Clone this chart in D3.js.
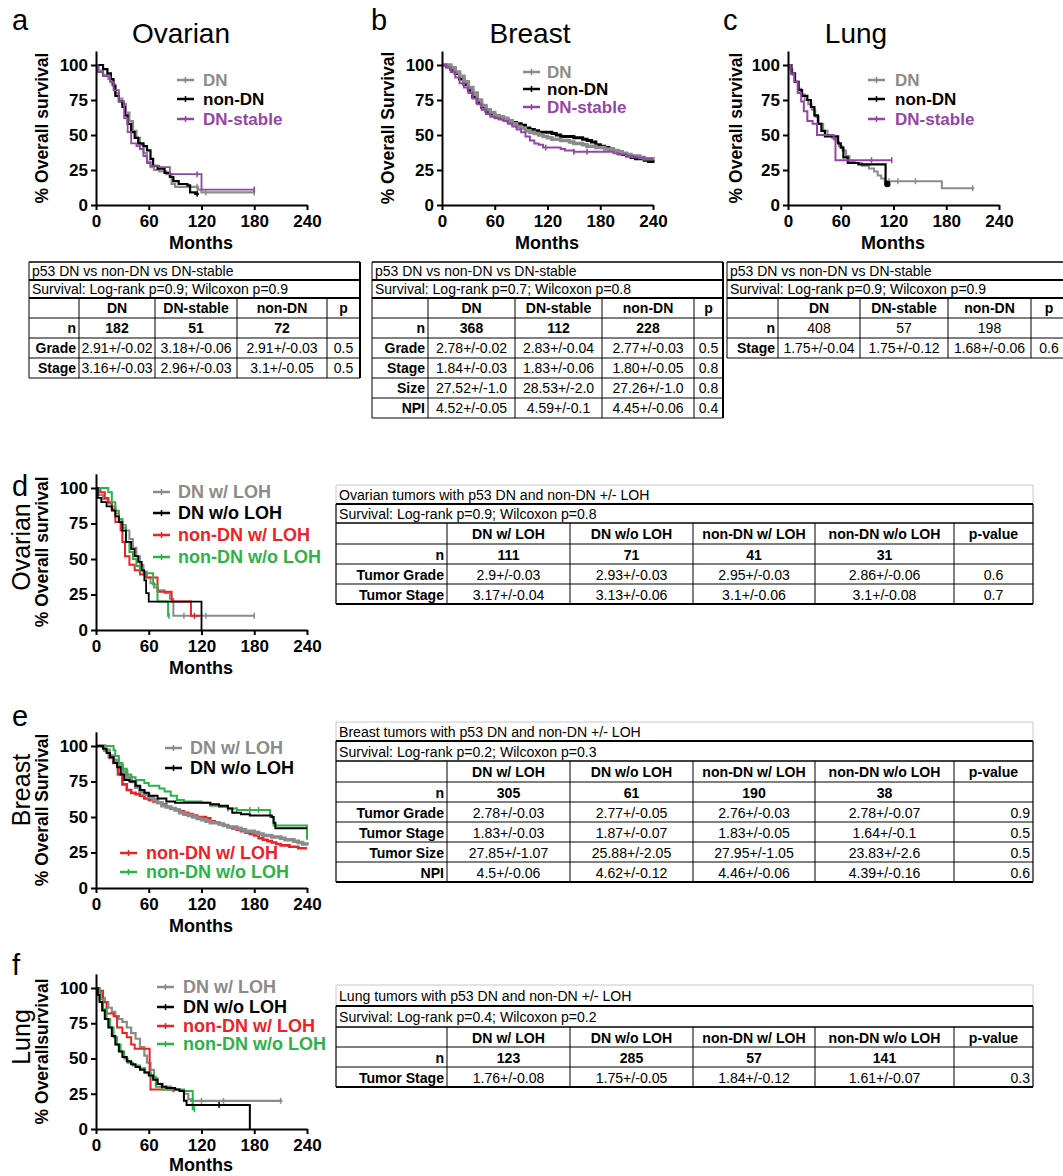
<!DOCTYPE html>
<html>
<head>
<meta charset="utf-8">
<script src="https://cdn.jsdelivr.net/npm/d3@7"></script>
<style>
  body { margin: 0; background: #fff; }
  svg { display: block; }
  text { font-family: "Liberation Sans", Arial, sans-serif; }
</style>
</head>
<body>
<svg id="fig" width="1063" height="1176"></svg>
<script>
// ---- ticks ----
const MONTH_TICKS = [0, 60, 120, 180, 240];
const SURV_TICKS = [0, 25, 50, 75, 100];

// ---- legends ----
const LEG3 = ["DN", "non-DN", "DN-stable"];
const LEG4 = ["DN w/ LOH", "DN w/o LOH", "non-DN w/ LOH", "non-DN w/o LOH"];

// ---- a: ovarian (month, % surviving) ----
const ovDN = [[0,100],[3,96],[8,93],[14,90],[18,86],[22,80],[26,76],[30,72],[34,66],[38,60],[42,53],[46,48],[50,43],[54,37],[58,31],[62,27],[66,25],[72,24],[80,22],[86,15],[90,13],[112,13],[116,11],[120,9],[180,9]];
const ovNon = [[0,100],[8,97],[13,94],[17,90],[20,85],[22,78],[26,74],[30,70],[33,64],[36,58],[40,52],[44,48],[48,44],[54,42],[58,39],[62,33],[65,28],[70,26],[78,23],[84,20],[88,17],[94,15],[104,14],[107,9],[113,8],[117,8]];
const ovStable = [[0,100],[2,95],[8,92],[16,88],[20,82],[26,74],[32,62],[36,52],[40,44],[46,42],[50,40],[54,35],[58,30],[62,28],[72,27],[84,22],[118,22],[120,11],[180,11]];
const ovDNCens = [115, 125, 180];
const ovNonCens = [115];
const ovStableCens = [115, 180];

// ---- b: breast ----
const brDN = [[0,100],[5,100],[10,98],[15,95],[20,92],[25,88],[30,84],[35,80],[40,75],[45,71],[50,68],[55,66],[60,64],[65,63],[70,62],[75,60],[80,58],[85,56],[90,55],[95,53],[100,52],[105,51],[110,50],[115,49],[120,48],[125,47],[135,46],[145,45],[150,44],[160,43],[165,42],[175,41],[185,40],[195,39],[200,38],[205,37],[210,36],[215,35],[225,34],[230,33],[240,32]];
const brNon = [[0,100],[5,99],[10,97],[15,94],[20,90],[25,86],[30,82],[35,77],[40,73],[45,70],[50,67],[55,65],[60,63],[65,62],[70,61],[75,60],[80,59],[85,58],[90,57],[95,55],[100,54],[105,53],[110,52],[125,51],[130,50],[135,49],[150,48],[160,47],[165,46],[170,45],[175,43],[180,42],[185,41],[190,40],[195,39],[200,37],[205,36],[210,35],[215,34],[220,33],[230,32],[235,31],[240,30]];
const brStable = [[0,100],[5,98],[10,95],[15,91],[20,87],[25,84],[30,80],[35,76],[40,72],[45,68],[50,65],[55,63],[60,62],[65,61],[70,60],[75,58],[80,56],[85,54],[90,52],[95,49],[100,46],[105,44],[110,43],[115,41],[135,40],[140,39],[150,38],[190,38],[195,37],[200,36],[210,35],[220,34],[230,33],[240,33]];
const brStableCens = [118, 150, 165];

// ---- c: lung ----
const luDN = [[0,100],[2,97],[5,93],[8,88],[12,83],[15,79],[19,75],[23,72],[27,68],[31,63],[35,58],[40,53],[45,50],[50,48],[55,45],[58,42],[62,39],[66,35],[70,31],[76,30],[84,28],[92,26],[98,24],[102,21],[106,19],[110,17],[174,17],[175,12],[212,12]];
const luNon = [[0,100],[4,94],[8,88],[12,82],[16,78],[22,75],[26,70],[30,64],[34,58],[38,53],[42,49],[54,49],[57,44],[60,41],[63,34],[68,30],[80,29],[110,29],[111,15],[113,15]];
const luStable = [[0,100],[3,94],[7,88],[11,80],[15,74],[18,67],[22,60],[28,58],[33,50],[48,50],[52,47],[54,32],[118,32]];
const luDNCens = [115, 125, 145, 210];
const luStableCens = [95, 118];

// ---- d: ovarian +/- LOH ----
const dDNw = [[0,100],[3,95],[8,92],[14,89],[18,87],[22,82],[26,78],[30,74],[34,70],[38,64],[42,58],[46,52],[50,46],[54,41],[58,37],[62,33],[66,30],[70,28],[78,26],[84,22],[88,10],[180,10]];
const dDNwo = [[0,100],[2,93],[6,90],[12,87],[18,84],[22,80],[26,76],[30,70],[34,62],[40,57],[44,52],[48,48],[52,42],[55,35],[57,26],[60,20],[120,20],[120,0]];
const dNonw = [[0,100],[5,97],[10,93],[14,90],[18,85],[22,76],[28,70],[30,62],[33,52],[38,46],[44,42],[50,39],[56,37],[70,27],[86,20],[108,10],[118,10]];
const dNonwo = [[0,100],[14,97],[18,90],[22,84],[26,78],[30,72],[34,62],[38,55],[42,50],[46,45],[50,42],[54,40],[62,40],[65,32],[70,20],[80,20],[82,10],[83,10]];
const dDNwCens = [100, 125, 180];
const dNonwCens = [112];
const dNonwoCens = [83];

// ---- e: breast +/- LOH ----
const eDNw = [[0,100],[5,100],[10,97],[15,93],[20,90],[25,86],[30,82],[35,78],[40,75],[45,71],[50,68],[55,66],[60,64],[65,62],[70,60],[75,58],[80,57],[85,56],[90,55],[95,53],[100,52],[105,51],[110,50],[115,49],[120,48],[125,47],[130,46],[140,45],[145,44],[150,43],[160,42],[165,41],[170,40],[180,39],[185,38],[190,37],[200,36],[210,35],[215,34],[225,33],[230,32],[235,31],[240,30]];
const eDNwo = [[0,100],[8,98],[12,95],[16,92],[20,88],[24,85],[28,80],[32,76],[38,75],[45,72],[50,69],[55,67],[60,65],[70,63],[80,61],[90,60],[130,59],[140,58],[150,56],[155,53],[165,52],[175,51],[200,50],[202,46],[204,42],[240,42]];
const eNonw = [[0,100],[10,97],[15,92],[20,88],[25,80],[30,73],[35,69],[40,67],[45,66],[50,65],[55,63],[60,62],[65,61],[70,60],[75,59],[80,57],[85,56],[90,55],[95,54],[100,53],[105,52],[110,51],[115,50],[125,49],[130,47],[135,46],[140,45],[145,44],[150,43],[155,42],[160,41],[165,40],[170,39],[175,38],[180,37],[185,35],[190,34],[195,33],[200,32],[205,31],[210,30],[220,29],[230,28],[240,28]];
const eNonwo = [[0,100],[18,100],[20,97],[22,93],[26,88],[30,84],[35,80],[40,78],[45,76],[55,74],[60,72],[72,70],[78,68],[85,65],[92,62],[100,61],[120,60],[130,58],[140,57],[150,56],[160,55],[196,55],[198,50],[202,44],[239,44],[240,34]];
const eNonwoCens = [150, 160, 175, 185];

// ---- f: lung +/- LOH ----
const fDNw = [[0,100],[3,97],[6,93],[10,90],[14,86],[18,83],[22,80],[26,78],[30,76],[35,72],[40,68],[45,64],[50,58],[55,52],[58,47],[62,42],[66,36],[70,32],[76,30],[85,28],[95,27],[100,25],[105,21],[108,20],[212,20]];
const fDNwo = [[0,100],[2,95],[4,90],[7,84],[10,78],[14,72],[18,66],[22,60],[26,55],[30,51],[35,48],[40,46],[45,44],[50,42],[55,40],[60,38],[65,35],[70,32],[75,30],[80,29],[90,28],[95,27],[100,20],[103,17],[175,17],[175,0]];
const fNonw = [[0,100],[4,98],[8,90],[12,82],[20,80],[24,72],[30,68],[35,65],[40,60],[44,57],[60,57],[61,40],[62,28],[82,28],[88,26]];
const fNonwo = [[0,100],[4,92],[8,85],[12,78],[16,72],[20,65],[24,60],[28,55],[32,50],[36,47],[42,45],[50,43],[56,40],[62,37],[68,30],[75,28],[85,28],[100,27],[110,27],[110,14],[112,14]];
const fDNwCens = [110, 120, 145, 210];
const fDNwoCens = [140];
const fNonwoCens = [112];

// ---- tables ----
const HEAD3 = ["", "DN", "DN-stable", "non-DN", "p"];
const HEAD4 = ["", "DN w/ LOH", "DN w/o LOH", "non-DN w/ LOH", "non-DN w/o LOH", "p-value"];
const tabA = [
  ["n", "182", "51", "72", ""],
  ["Grade", "2.91+/-0.02", "3.18+/-0.06", "2.91+/-0.03", "0.5"],
  ["Stage", "3.16+/-0.03", "2.96+/-0.03", "3.1+/-0.05", "0.5"]
];
const tabB = [
  ["n", "368", "112", "228", ""],
  ["Grade", "2.78+/-0.02", "2.83+/-0.04", "2.77+/-0.03", "0.5"],
  ["Stage", "1.84+/-0.03", "1.83+/-0.06", "1.80+/-0.05", "0.8"],
  ["Size", "27.52+/-1.0", "28.53+/-2.0", "27.26+/-1.0", "0.8"],
  ["NPI", "4.52+/-0.05", "4.59+/-0.1", "4.45+/-0.06", "0.4"]
];
const tabC = [
  ["n", "408", "57", "198", ""],
  ["Stage", "1.75+/-0.04", "1.75+/-0.12", "1.68+/-0.06", "0.6"]
];
const tabD = [
  ["n", "111", "71", "41", "31", ""],
  ["Tumor Grade", "2.9+/-0.03", "2.93+/-0.03", "2.95+/-0.03", "2.86+/-0.06", "0.6"],
  ["Tumor Stage", "3.17+/-0.04", "3.13+/-0.06", "3.1+/-0.06", "3.1+/-0.08", "0.7"]
];
const tabE = [
  ["n", "305", "61", "190", "38", ""],
  ["Tumor Grade", "2.78+/-0.03", "2.77+/-0.05", "2.76+/-0.03", "2.78+/-0.07", "0.9"],
  ["Tumor Stage", "1.83+/-0.03", "1.87+/-0.07", "1.83+/-0.05", "1.64+/-0.1", "0.5"],
  ["Tumor Size", "27.85+/-1.07", "25.88+/-2.05", "27.95+/-1.05", "23.83+/-2.6", "0.5"],
  ["NPI", "4.5+/-0.06", "4.62+/-0.12", "4.46+/-0.06", "4.39+/-0.16", "0.6"]
];
const tabF = [
  ["n", "123", "285", "57", "141", ""],
  ["Tumor Stage", "1.76+/-0.08", "1.75+/-0.05", "1.84+/-0.12", "1.61+/-0.07", "0.3"]
];

const GRAY = "#8b8b8b", BLACK = "#000", PURPLE = "#9545a9", RED = "#ec2227", GREEN = "#2db24a";

const svg = d3.select("#fig");

function stepAt(pts, m) {
  let v = pts[0][1];
  for (const p of pts) if (p[0] <= m) v = p[1];
  return v;
}

// one Kaplan-Meier panel
function drawKM(p) {
  const g = svg.append("g");
  const x = d3.scaleLinear().domain([0, 240]).range([p.x0, p.x0 + 211]);
  const y = d3.scaleLinear().domain([0, 110])
    .range([p.y0, p.y0 - (p.y0 - p.y100) * 1.1]);

  const line = d3.line().x(d => x(d[0])).y(d => y(d[1])).curve(d3.curveStepAfter);
  p.series.forEach(s => {
    g.append("path").datum(s.pts)
      .attr("d", line).attr("fill", "none")
      .attr("stroke", s.color).attr("stroke-width", s.w || 2);
    (s.cens || []).forEach(m => {
      g.append("line")
        .attr("x1", x(m)).attr("x2", x(m))
        .attr("y1", y(stepAt(s.pts, m)) - 3).attr("y2", y(stepAt(s.pts, m)) + 3)
        .attr("stroke", s.color).attr("stroke-width", 1.5);
    });
    if (s.dot) {
      const last = s.pts[s.pts.length - 1];
      g.append("circle").attr("cx", x(last[0])).attr("cy", y(last[1]))
        .attr("r", 3.2).attr("fill", s.color);
    }
  });

  const ax = g.append("g").attr("transform", "translate(0," + p.y0 + ")")
    .call(d3.axisBottom(x).tickValues(MONTH_TICKS).tickSize(5).tickSizeOuter(0).tickPadding(5));
  const ay = g.append("g").attr("transform", "translate(" + p.x0 + ",0)")
    .call(d3.axisLeft(y).tickValues(SURV_TICKS).tickSize(5).tickSizeOuter(0).tickPadding(3));
  [ax, ay].forEach(a => {
    a.selectAll("path,line").attr("stroke-width", 2);
    a.selectAll("text").attr("font-size", 17).attr("font-weight", "bold")
      .attr("font-family", '"Liberation Sans", Arial, sans-serif');
  });

  g.append("text").attr("x", p.x0 + 105).attr("y", p.y0 + (p.monthsDy || 44))
    .attr("text-anchor", "middle").attr("font-size", 18).attr("font-weight", "bold")
    .text("Months");
  g.append("text")
    .attr("transform", "translate(" + p.ylabX + "," + ((y(0) + y(110)) / 2) + ") rotate(-90)")
    .attr("text-anchor", "middle").attr("font-size", 17.5).attr("font-weight", "bold")
    .text(p.ylab);

  // legend
  p.legend.forEach(l => {
    const col = p.series.find(s => s.name === l.name).color;
    g.append("line").attr("x1", l.lx).attr("x2", l.lx + 17)
      .attr("y1", l.y).attr("y2", l.y).attr("stroke", col).attr("stroke-width", 2.5);
    g.append("line").attr("x1", l.lx + 8.5).attr("x2", l.lx + 8.5)
      .attr("y1", l.y - 3).attr("y2", l.y + 3).attr("stroke", col).attr("stroke-width", 1.5);
    g.append("text").attr("x", l.tx).attr("y", l.y + 6)
      .attr("font-size", p.legSize).attr("font-weight", "bold").attr("fill", col)
      .text(l.name);
  });
}

function leg(names, lx, tx, ys) {
  return names.map((n, i) => ({ name: n, lx: lx, tx: tx, y: ys[i] }));
}

// ---- top row panels ----
drawKM({
  x0: 96, y0: 205, y100: 65, ylabX: 48, ylab: "% Overall survival", legSize: 17,
  series: [
    { name: "DN", pts: ovDN, color: GRAY, w: 2.2, cens: ovDNCens },
    { name: "non-DN", pts: ovNon, color: BLACK, w: 2.2, cens: ovNonCens },
    { name: "DN-stable", pts: ovStable, color: PURPLE, w: 1.8, cens: ovStableCens }
  ],
  legend: leg(LEG3, 177, 203, [80, 99, 119])
});
drawKM({
  x0: 442, y0: 205, y100: 65, ylabX: 394, ylab: "% Overall Survival", legSize: 17,
  series: [
    { name: "non-DN", pts: brNon, color: BLACK, w: 3 },
    { name: "DN", pts: brDN, color: GRAY, w: 3.5 },
    { name: "DN-stable", pts: brStable, color: PURPLE, w: 2, cens: brStableCens }
  ],
  legend: leg(LEG3, 523, 547, [72, 89, 107])
});
drawKM({
  x0: 788, y0: 205, y100: 65, ylabX: 742, ylab: "% Overall survival", legSize: 17,
  series: [
    { name: "DN", pts: luDN, color: GRAY, w: 2, cens: luDNCens },
    { name: "non-DN", pts: luNon, color: BLACK, w: 2.2, dot: true },
    { name: "DN-stable", pts: luStable, color: PURPLE, w: 2, cens: luStableCens }
  ],
  legend: leg(LEG3, 868, 895, [80, 99, 119])
});

// ---- lower panels ----
drawKM({
  x0: 96, y0: 630, y100: 488, ylabX: 48, ylab: "% Overall survival", legSize: 18,
  series: [
    { name: "DN w/ LOH", pts: dDNw, color: GRAY, w: 2, cens: dDNwCens },
    { name: "non-DN w/ LOH", pts: dNonw, color: RED, w: 2, cens: dNonwCens },
    { name: "non-DN w/o LOH", pts: dNonwo, color: GREEN, w: 2, cens: dNonwoCens },
    { name: "DN w/o LOH", pts: dDNwo, color: BLACK, w: 1.8 }
  ],
  legend: leg(LEG4, 153, 178, [492, 513, 535, 557])
});
drawKM({
  x0: 96, y0: 888, y100: 746, ylabX: 48, ylab: "% Overall Survival", legSize: 18,
  series: [
    { name: "non-DN w/ LOH", pts: eNonw, color: RED, w: 2.6 },
    { name: "DN w/ LOH", pts: eDNw, color: GRAY, w: 3.5 },
    { name: "non-DN w/o LOH", pts: eNonwo, color: GREEN, w: 2, cens: eNonwoCens },
    { name: "DN w/o LOH", pts: eDNwo, color: BLACK, w: 2 }
  ],
  legend: leg(LEG4.slice(0, 2), 165, 190, [748, 768])
    .concat(leg(LEG4.slice(2), 120, 146, [853, 872]))
});
drawKM({
  x0: 96, y0: 1129, y100: 988, ylabX: 48, ylab: "% Overallsurvival", legSize: 18, monthsDy: 42,
  series: [
    { name: "DN w/ LOH", pts: fDNw, color: GRAY, w: 2.2, cens: fDNwCens },
    { name: "non-DN w/ LOH", pts: fNonw, color: RED, w: 2 },
    { name: "non-DN w/o LOH", pts: fNonwo, color: GREEN, w: 2, cens: fNonwoCens },
    { name: "DN w/o LOH", pts: fDNwo, color: BLACK, w: 2, cens: fDNwoCens }
  ],
  legend: leg(LEG4, 157, 183, [987, 1007, 1026, 1044])
});

// ---- panel letters and titles ----
[["a", 12, 30], ["b", 371, 30], ["c", 723, 30], ["d", 12, 496], ["e", 12, 726], ["f", 12, 975]]
  .forEach(t => svg.append("text").attr("x", t[1]).attr("y", t[2])
    .attr("font-size", 29).text(t[0]));
[["Ovarian", 181], ["Breast", 530], ["Lung", 856]]
  .forEach(t => svg.append("text").attr("x", t[1]).attr("y", 43)
    .attr("text-anchor", "middle").attr("font-size", 28).text(t[0]));
[["Ovarian", 547], ["Breast", 790], ["Lung", 1037]]
  .forEach(t => svg.append("text")
    .attr("transform", "translate(30," + t[1] + ") rotate(-90)")
    .attr("text-anchor", "middle").attr("font-size", 25).text(t[0]));

// ---- tables ----
function drawTable(t) {
  const g = svg.append("g");
  const xs = [t.x];
  t.cols.forEach(w => xs.push(xs[xs.length - 1] + w));
  const ys = [t.y];
  t.rowH.forEach(h => ys.push(ys[ys.length - 1] + h));
  const x1 = xs[xs.length - 1], yEnd = ys[ys.length - 1];
  const fs = t.fs, sx = t.sx || 1;

  const txt = (x, y, s, anchor, bold) => {
    g.append("text")
      .attr("transform", "translate(" + x + "," + y + ") scale(" + sx + ",1)")
      .attr("text-anchor", anchor).attr("font-size", fs)
      .attr("font-weight", bold ? "bold" : "normal").text(s);
  };
  const hl = (y, c, w) => g.append("line").attr("x1", t.x).attr("x2", x1)
    .attr("y1", y).attr("y2", y).attr("stroke", c).attr("stroke-width", w);
  const vl = (x, ya, yb, c, w) => g.append("line").attr("x1", x).attr("x2", x)
    .attr("y1", ya).attr("y2", yb).attr("stroke", c).attr("stroke-width", w);

  // title rows
  const mid = i => (ys[i] + ys[i + 1]) / 2 + fs * 0.36;
  txt(t.x + 3, mid(0), t.title, "start", false);
  txt(t.x + 3, mid(1), t.surv, "start", false);
  // header and body
  const body = [t.head].concat(t.rows);
  body.forEach((r, ri) => {
    const yy = mid(ri + 2);
    r.forEach((v, ci) => {
      if (!v) return;
      if (ci === 0) txt(xs[1] - 3, yy, v, "end", true);
      else if (ci === r.length - 1 && t.pRight && ri > 0) txt(xs[ci + 1] - 3, yy, v, "end", false);
      else txt((xs[ci] + xs[ci + 1]) / 2, yy, v, "middle", ri === 0 || (ri === 1 && t.nBold));
    });
  });

  // grid
  const light = t.style === "loh";
  hl(ys[0], light ? "#c8c8c8" : BLACK, light ? 1 : 1.5);
  vl(t.x, ys[0], ys[1], light ? "#c8c8c8" : BLACK, 1);
  vl(x1, ys[0], ys[1], light ? "#c8c8c8" : BLACK, light ? 1 : 2);
  hl(ys[1], BLACK, 2);
  hl(ys[2], BLACK, light ? 1.5 : 2);
  for (let i = 3; i < ys.length - 1; i++) hl(ys[i], BLACK, 1);
  hl(yEnd, BLACK, light ? 2 : 1);
  vl(t.x, ys[1], yEnd, BLACK, light ? 1.2 : 1);
  vl(x1, ys[1], yEnd, BLACK, light ? 1.2 : 2);
  for (let i = 1; i < xs.length - 1; i++) vl(xs[i], ys[2], yEnd, BLACK, 1);
}

const TITLE3 = "p53 DN vs non-DN vs DN-stable";
drawTable({ x: 29, y: 262, cols: [50, 76, 82, 90, 33], rowH: [18, 18, 20, 20, 20, 20], fs: 14,
  title: TITLE3, surv: "Survival: Log-rank p=0.9; Wilcoxon p=0.9", head: HEAD3, rows: tabA, nBold: true });
drawTable({ x: 372, y: 262, cols: [56, 87, 87, 92, 29], rowH: [18, 18, 20, 20, 20, 20, 20, 20], fs: 14,
  title: TITLE3, surv: "Survival: Log-rank p=0.7; Wilcoxon p=0.8", head: HEAD3, rows: tabB, nBold: true });
drawTable({ x: 727, y: 262, cols: [51, 82, 88, 83, 36], rowH: [18, 18, 20, 20, 20], fs: 14,
  title: TITLE3, surv: "Survival: Log-rank p=0.9; Wilcoxon p=0.9", head: HEAD3, rows: tabC, nBold: false });

const COLS4 = [111, 123, 123, 122, 139, 79];
drawTable({ x: 336, y: 485, cols: COLS4, rowH: [19, 19, 21, 20, 20, 20], fs: 15.5, sx: 0.91, style: "loh",
  title: "Ovarian tumors with p53 DN and non-DN +/- LOH", surv: "Survival: Log-rank p=0.9; Wilcoxon p=0.8",
  head: HEAD4, rows: tabD, nBold: true });
drawTable({ x: 336, y: 722, cols: COLS4, rowH: [19, 20, 21, 20, 20, 20, 20, 20], fs: 15.5, sx: 0.91, style: "loh",
  title: "Breast tumors with p53 DN and non-DN +/- LOH", surv: "Survival: Log-rank p=0.2; Wilcoxon p=0.3",
  head: HEAD4, rows: tabE, nBold: true, pRight: true });
drawTable({ x: 336, y: 985, cols: COLS4, rowH: [21, 21, 20, 20, 20], fs: 15.5, sx: 0.91, style: "loh",
  title: "Lung tumors with p53 DN and non-DN +/- LOH", surv: "Survival: Log-rank p=0.4; Wilcoxon p=0.2",
  head: HEAD4, rows: tabF, nBold: true, pRight: true });
</script>
</body>
</html>
